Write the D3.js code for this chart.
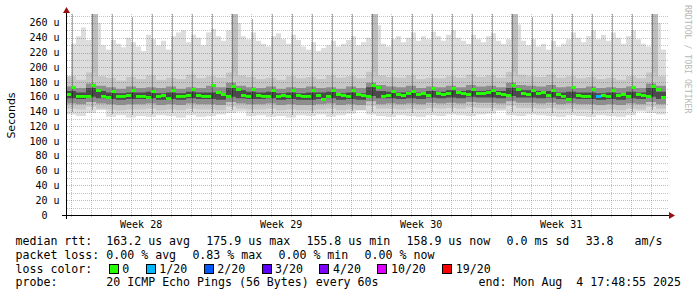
<!DOCTYPE html>
<html>
<head>
<meta charset="utf-8">
<script src="https://cdn.jsdelivr.net/npm/d3@7"></script>
<style>
  body { margin: 0; background: #fff; }
  svg { display: block; }
  text { font-family: "DejaVu Sans Mono", monospace; fill: #000; }
</style>
</head>
<body>
<svg id="chart" width="697" height="297"></svg>
<script>
// time window: 30 days ending at the "end:" stamp
const endTime = new Date(2025, 7, 4, 17, 48, 55);
const startTime = d3.timeDay.offset(endTime, -30);

// median rtt in us, one value per 6 hours
const medRtt = [163,172,161,160,161,175,168,160,159,167,161,160,162,168,161,160,159,167,161,162,
  158,169,161,160,162,170,162,161,160,176,166,163,161,174,170,162,161,170,162,160,
  161,168,161,162,160,168,162,161,160,168,162,156,161,168,163,162,161,169,163,162,
  161,176,173,161,162,167,163,162,164,167,163,164,162,171,165,163,164,171,166,165,
  163,170,165,164,166,169,164,163,162,175,170,164,163,169,164,166,162,169,163,161,
  157,173,162,160,161,170,161,162,161,169,162,163,161,173,163,162,161,174,170,159];
// lost pings (out of 20) at a few 6 hour slots
const lossSlot = [106];
const lossPings = [1];

// highest ping per 6 hours
const hiRtt = [180,232,242,254,237,272,260,230,224,237,232,227,240,234,228,222,244,238,230,236,
  224,242,247,250,234,244,240,230,247,252,242,236,250,272,260,242,238,247,236,232,
  228,242,246,238,232,244,237,228,224,234,222,226,230,236,228,232,237,242,230,234,
  240,272,257,232,228,238,242,234,240,247,236,242,238,248,242,236,244,250,240,236,
  232,244,238,234,242,246,236,232,238,272,258,236,230,238,228,232,224,236,228,232,
  238,247,240,234,242,250,238,244,236,247,240,232,242,250,238,232,228,272,260,224];

// smoke quantiles, one value per 12 hours
const p90Rtt = [188,183,193,188,186,182,187,184,189,183,186,184,190,185,188,186,193,189,187,184,
  186,183,188,185,187,184,189,186,188,185,194,189,187,186,189,184,186,185,188,186,
  190,187,189,186,194,190,188,187,190,186,188,185,187,184,186,183,188,185,193,188];
const p75Rtt = [174,172,178,175,173,171,174,172,173,172,174,171,173,172,175,173,179,175,173,172,
  174,171,173,172,174,172,173,171,174,172,179,176,174,173,175,172,174,173,175,173,
  176,174,175,173,179,176,175,174,176,173,174,172,174,172,173,172,174,172,178,175];
const p60Rtt = [168,166,172,168,166,165,166,166,167,165,166,165,167,166,166,165,172,169,167,166,
  167,165,166,165,166,166,167,165,166,165,173,168,167,166,167,166,168,167,169,168,
  169,168,169,168,172,169,169,168,168,166,167,166,166,165,166,165,167,166,172,167];
const p40Rtt = [158,157,160,158,157,156,157,157,158,156,157,156,158,157,157,156,160,158,157,157,
  158,156,157,156,156,157,158,156,157,156,161,158,158,157,158,157,159,158,159,158,
  160,159,159,158,161,159,159,158,159,157,158,157,157,156,157,156,158,157,160,157];
const p25Rtt = [151,150,153,151,150,149,150,150,151,149,150,149,151,150,150,149,153,151,150,150,
  151,149,150,149,149,150,151,149,150,149,154,150,151,150,151,150,152,151,152,151,
  153,152,152,151,154,152,152,151,152,150,151,150,150,149,150,149,151,150,153,150];
const p10Rtt = [144,143,147,144,143,142,143,143,144,142,143,142,144,143,143,142,147,144,143,143,
  144,142,143,142,142,143,144,142,143,142,148,144,144,143,144,143,145,144,145,144,
  146,145,145,144,148,145,145,144,145,143,144,143,143,142,143,142,144,143,147,144];
const loRtt = [136,134,138,142,133,135,132,134,133,135,134,132,135,133,134,136,138,140,134,135,
  133,134,132,135,134,136,133,135,137,142,136,134,133,135,134,133,135,134,136,135,
  134,136,137,141,135,134,136,135,134,133,135,134,133,135,134,133,135,140,138,136];

// nightly burst around 01:00 (peak per day) and monday morning burst (peak per week)
const dailyPeak = [272,272,272,268,272,272,272,272,272,265,272,272,272,272,272,
  272,270,272,272,272,272,272,272,268,272,272,272,272,272,272];
const weeklyPeak = [272,272,272,272,272];
const weeklyLow = [150,150,151,150,150];

const yTicks = d3.range(0, 261, 20);
const yMinor = d3.range(10, 271, 20);

const lossColors = [["0", "#26ff00"], ["1/20", "#00b8ff"], ["2/20", "#0059ff"], ["3/20", "#5e00ff"],
  ["4/20", "#7e00ff"], ["10/20", "#dd00ff"], ["19/20", "#ff0000"]];
const rttStats = ["163.2 us avg", "175.9 us max", "155.8 us min", "158.9 us now", "0.0 ms sd", "33.8   am/s"];
const lossStats = ["0.00 % avg", "0.83 % max", "0.00 % min", "0.00 % now"];
const probeText = "20 ICMP Echo Pings (56 Bytes) every 60s";

const svg = d3.select("#chart");
const x = d3.scaleTime().domain([startTime, endTime]).range([66, 666]);
const y = d3.scaleLinear().domain([0, 270.8]).range([215, 15]);

svg.append("defs").append("clipPath").attr("id", "plotclip")
  .append("rect").attr("x", 66).attr("y", 14).attr("width", 600).attr("height", 201);

const plot = svg.append("g").attr("clip-path", "url(#plotclip)");

const series = (vals, hours) => vals
  .map((v, i) => ({t: d3.timeHour.offset(startTime, i * hours), v: v}))
  .concat([{t: endTime, v: vals[vals.length - 1]}]);

const stepArea = d3.area().curve(d3.curveStepAfter).x(d => x(d.t));

// outer smoke and hole below the fastest ping
plot.append("path").datum(series(hiRtt, 6)).attr("fill", "#dddddd")
  .attr("d", stepArea.y0(y(0)).y1(d => y(d.v)));
plot.append("path").datum(series(loRtt, 12)).attr("fill", "#ffffff")
  .attr("d", stepArea.y0(y(0)).y1(d => y(d.v)));

// monday morning bursts
const mondays = d3.timeMonday.range(startTime, endTime);
plot.selectAll("rect.week").data(mondays).join("rect").attr("class", "week")
  .attr("shape-rendering", "crispEdges")
  .attr("x", d => x(d3.timeMinute.offset(d, 60)))
  .attr("width", d => x(d3.timeMinute.offset(d, 492)) - x(d3.timeMinute.offset(d, 60)))
  .attr("y", (d, i) => y(weeklyPeak[i]))
  .attr("height", (d, i) => y(weeklyLow[i]) - y(weeklyPeak[i]))
  .attr("fill", "#bdbdbd");

function band(lower, upper, fill) {
  const pts = series(upper, 12).map((d, i) => ({t: d.t, hi: d.v, lo: lower[Math.min(i, lower.length - 1)]}));
  plot.append("path").datum(pts).attr("fill", fill)
    .attr("d", d3.area().curve(d3.curveStepAfter).x(d => x(d.t)).y0(d => y(d.lo)).y1(d => y(d.hi)));
}
band(p10Rtt, p90Rtt, "#c6c6c6");
band(p25Rtt, p75Rtt, "#8e8e8e");
band(p40Rtt, p60Rtt, "#4a4a4a");

// nightly bursts
const days = d3.timeDay.range(startTime, endTime);
plot.selectAll("rect.night").data(days).join("rect").attr("class", "night")
  .attr("shape-rendering", "crispEdges")
  .attr("x", d => x(d3.timeMinute.offset(d, 60)))
  .attr("width", d => Math.max(1, x(d3.timeMinute.offset(d, 132)) - x(d3.timeMinute.offset(d, 60))))
  .attr("y", (d, i) => y(dailyPeak[i]))
  .attr("height", (d, i) => {
    const k = Math.min(loRtt.length - 1, Math.floor((d3.timeMinute.offset(d, 60) - startTime) / 432e5));
    return y(loRtt[k] + 4) - y(dailyPeak[i]);
  })
  .attr("fill", "#000").attr("fill-opacity", 0.33);

// grid
const grid = svg.append("g").attr("shape-rendering", "crispEdges").attr("stroke-dasharray", "1,1");
grid.selectAll("line.hmin").data(yMinor).join("line")
  .attr("x1", 67).attr("x2", 668).attr("y1", d => Math.round(y(d)) + 0.5).attr("y2", d => Math.round(y(d)) + 0.5)
  .attr("stroke", "rgba(128,128,128,0.45)");
const dayLines = days.filter(d => d3.timeDay.floor(d).getDay() !== 0);
grid.selectAll("line.vmin").data(dayLines).join("line")
  .attr("x1", d => Math.round(x(d)) + 0.5).attr("x2", d => Math.round(x(d)) + 0.5)
  .attr("y1", 14).attr("y2", 218)
  .attr("stroke", "rgba(128,128,128,0.45)");
grid.selectAll("line.hmaj").data(yTicks.filter(v => v > 0)).join("line")
  .attr("x1", 67).attr("x2", 668).attr("y1", d => Math.round(y(d)) + 0.5).attr("y2", d => Math.round(y(d)) + 0.5)
  .attr("stroke", "rgba(225,40,40,0.4)");
const sundays = d3.timeSunday.range(startTime, endTime);
grid.selectAll("line.vmaj").data(sundays).join("line")
  .attr("x1", d => Math.round(x(d)) + 0.5).attr("x2", d => Math.round(x(d)) + 0.5)
  .attr("y1", 14).attr("y2", 218)
  .attr("stroke", "rgba(225,40,40,0.4)");

// median, coloured by loss
const lossAt = i => { const k = lossSlot.indexOf(i); return k < 0 ? 0 : lossPings[k]; };
const lossColor = n => n === 0 ? lossColors[0][1] : n <= 1 ? lossColors[1][1] : n <= 2 ? lossColors[2][1]
  : n <= 3 ? lossColors[3][1] : n <= 4 ? lossColors[4][1] : n <= 10 ? lossColors[5][1] : lossColors[6][1];
plot.selectAll("rect.med").data(medRtt).join("rect").attr("class", "med")
  .attr("shape-rendering", "crispEdges")
  .attr("x", (d, i) => x(d3.timeHour.offset(startTime, i * 6)))
  .attr("width", (d, i) => x(d3.timeHour.offset(startTime, (i + 1) * 6)) - x(d3.timeHour.offset(startTime, i * 6)))
  .attr("y", d => y(d) - 1.5).attr("height", 3)
  .attr("fill", (d, i) => lossColor(lossAt(i)));

// axes
svg.append("line").attr("x1", 62).attr("x2", 670).attr("y1", 215.5).attr("y2", 215.5)
  .attr("stroke", "#000").attr("shape-rendering", "crispEdges");
svg.append("line").attr("x1", 66.5).attr("x2", 66.5).attr("y1", 219).attr("y2", 12)
  .attr("stroke", "#000").attr("shape-rendering", "crispEdges");
svg.append("path").attr("d", "M669,212L675,215.5L669,219Z").attr("fill", "#9a0e0e");
svg.append("path").attr("d", "M63,13L66.5,7L70,13Z").attr("fill", "#9a0e0e");

svg.selectAll("text.ylab").data(yTicks).join("text").attr("class", "ylab")
  .attr("x", 59.5).attr("y", d => y(d) + 3.5).attr("text-anchor", "end")
  .style("font-size", "10px").attr("xml:space", "preserve")
  .text(d => d === 0 ? "0  " : d + " u");

const weekFmt = d3.timeFormat("Week %V");
const weekMids = sundays.map(d => d3.timeHour.offset(d, 84)).filter(d => d < endTime);
svg.selectAll("text.xlab").data(weekMids).join("text").attr("class", "xlab")
  .attr("x", d => x(d)).attr("y", 228).attr("text-anchor", "middle")
  .style("font-size", "10px").text(d => weekFmt(d));

svg.append("text").attr("transform", "translate(15,115.5) rotate(-90)")
  .attr("text-anchor", "middle").style("font-family", "'DejaVu Sans', sans-serif").style("font-size", "11px")
  .text("Seconds");

svg.append("text").attr("transform", "translate(685,5) rotate(90)")
  .style("font-size", "8.2px").style("fill", "#b8b8b8")
  .text("RRDTOOL / TOBI OETIKER");

// legend
const CW = 6.98, GAP = 16.3, VX = 106.3;
const rowY = i => 245.3 + i * 13.67;
const legend = svg.append("g").style("font-size", "11.6px");
["median rtt:", "packet loss:", "loss color:", "probe:"].forEach((s, i) =>
  legend.append("text").attr("x", 15.5).attr("y", rowY(i)).text(s));

function putItems(items, row) {
  let px = VX;
  items.forEach(s => {
    legend.append("text").attr("x", px).attr("y", rowY(row)).attr("xml:space", "preserve").text(s);
    px += s.length * CW + GAP;
  });
}
putItems(rttStats, 0);
putItems(lossStats, 1);

let bx = 108.7;
lossColors.forEach(([lab, col]) => {
  legend.append("rect").attr("x", bx + 0.5).attr("y", rowY(2) - 8).attr("width", 9).attr("height", 9)
    .attr("fill", col).attr("stroke", "#000").attr("shape-rendering", "crispEdges");
  legend.append("text").attr("x", bx + 13.6).attr("y", rowY(2)).text(lab);
  bx += 13.6 + lab.length * CW + 16.4;
});

legend.append("text").attr("x", VX).attr("y", rowY(3)).text(probeText);
legend.append("text").attr("x", 681).attr("y", rowY(3)).attr("text-anchor", "end")
  .attr("xml:space", "preserve").text("end: Mon Aug  4 17:48:55 2025");
</script>
</body>
</html>
